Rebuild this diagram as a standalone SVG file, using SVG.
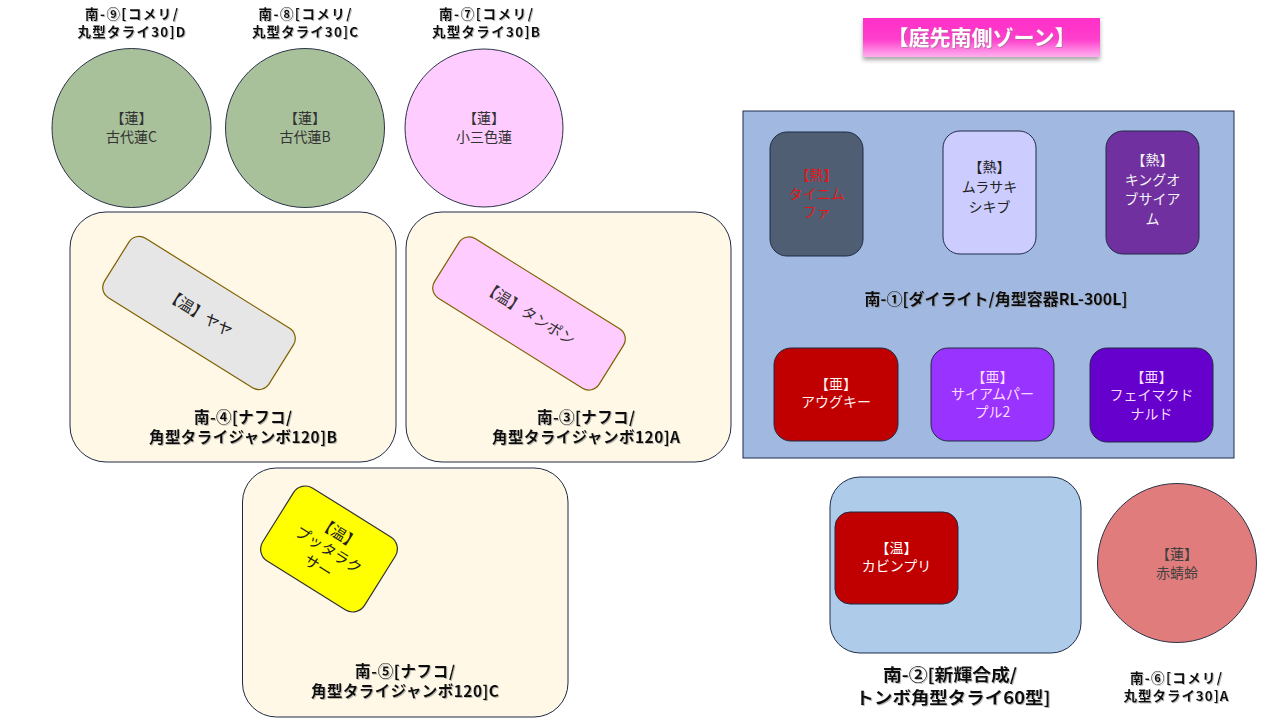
<svg xmlns="http://www.w3.org/2000/svg" width="1280" height="720" viewBox="0 0 1280 720">
  <defs>
    <linearGradient id="titleGrad" x1="0" y1="0" x2="0" y2="1">
      <stop offset="0" stop-color="#FF2FC8"/>
      <stop offset="0.55" stop-color="#FF3FCC"/>
      <stop offset="1" stop-color="#FFB0F0"/>
    </linearGradient>
    <filter id="boxShadow" x="-10%" y="-20%" width="120%" height="160%">
      <feDropShadow dx="0" dy="3" stdDeviation="2" flood-color="#000" flood-opacity="0.35"/>
    </filter>
    <filter id="txtShadow" x="-10%" y="-30%" width="120%" height="160%">
      <feDropShadow dx="1" dy="1" stdDeviation="0.6" flood-color="#7f7f7f" flood-opacity="0.55"/>
    </filter>
    <style>
      .lbl { font-family: "Noto Sans CJK JP", "Noto Sans", sans-serif; font-weight: 700; fill: #111; text-anchor: middle; }
      .t { font-family: "Noto Sans CJK JP", "Noto Sans", sans-serif; font-size: 14px; text-anchor: middle; }
      .tub { fill: #FFF8E6; stroke: #1F2A44; stroke-width: 1; }
      .pot { stroke: #1F2A44; stroke-width: 1; }
      .circ { stroke: #2B3448; stroke-width: 1; }
    </style>
  </defs>

  <!-- Title -->
  <g id="title">
    <rect x="863" y="18" width="237" height="39" fill="url(#titleGrad)" filter="url(#boxShadow)"/>
    <text x="981.5" y="45" class="lbl" style="font-size:21px; fill:#FFFFFF" filter="url(#txtShadow)">【庭先南側ゾーン】</text>
  </g>

  <!-- South-9 -->
  <g id="south9">
    <text class="lbl" style="font-size:13.5px" filter="url(#txtShadow)"><tspan x="131.5" y="19" textLength="93" lengthAdjust="spacing">南-⑨[コメリ/</tspan><tspan x="131.5" y="37" textLength="108" lengthAdjust="spacing">丸型タライ30]D</tspan></text>
    <circle cx="131.5" cy="128" r="79.5" fill="#A9C19B" class="circ"/>
    <text class="t" fill="#333"><tspan x="131.5" y="123">【蓮】</tspan><tspan x="131.5" y="142">古代蓮C</tspan></text>
  </g>

  <!-- South-8 -->
  <g id="south8">
    <text class="lbl" style="font-size:13.5px" filter="url(#txtShadow)"><tspan x="305" y="19" textLength="93" lengthAdjust="spacing">南-⑧[コメリ/</tspan><tspan x="305" y="37" textLength="106" lengthAdjust="spacing">丸型タライ30]C</tspan></text>
    <circle cx="305" cy="128" r="79.5" fill="#A9C19B" class="circ"/>
    <text class="t" fill="#333"><tspan x="305" y="123">【蓮】</tspan><tspan x="305" y="142">古代蓮B</tspan></text>
  </g>

  <!-- South-7 -->
  <g id="south7">
    <text class="lbl" style="font-size:13.5px" filter="url(#txtShadow)"><tspan x="486" y="19" textLength="94" lengthAdjust="spacing">南-⑦[コメリ/</tspan><tspan x="486" y="37" textLength="108" lengthAdjust="spacing">丸型タライ30]B</tspan></text>
    <circle cx="484" cy="128" r="79" fill="#FFCCFF" class="circ"/>
    <text class="t" fill="#333"><tspan x="484" y="123">【蓮】</tspan><tspan x="484" y="142">小三色蓮</tspan></text>
  </g>

  <!-- South-4 -->
  <g id="south4">
    <rect x="70" y="212" width="326" height="250" rx="36" class="tub"/>
    <g id="yaya" transform="translate(199,313) rotate(32)">
      <rect x="-97" y="-35" width="194" height="70" rx="12" fill="#E6E6E6" stroke="#7F6000" stroke-width="1.2"/>
      <text x="0" y="5.5" class="t" style="font-size:15px" fill="#222">【温】ヤヤ</text>
    </g>
    <text class="lbl" style="font-size:15.5px" filter="url(#txtShadow)"><tspan x="243" y="422.5" textLength="98" lengthAdjust="spacing">南-④[ナフコ/</tspan><tspan x="243" y="443" textLength="188" lengthAdjust="spacing">角型タライジャンボ120]B</tspan></text>
  </g>

  <!-- South-3 -->
  <g id="south3">
    <rect x="406" y="212" width="325" height="250" rx="36" class="tub"/>
    <g id="tanpon" transform="translate(529,313.5) rotate(32)">
      <rect x="-97" y="-35" width="194" height="70" rx="12" fill="#FFCCFF" stroke="#7F6000" stroke-width="1.2"/>
      <text x="0" y="5.5" class="t" style="font-size:15px" fill="#333">【温】タンポン</text>
    </g>
    <text class="lbl" style="font-size:15.5px" filter="url(#txtShadow)"><tspan x="586" y="422.5" textLength="98" lengthAdjust="spacing">南-③[ナフコ/</tspan><tspan x="586" y="443" textLength="188" lengthAdjust="spacing">角型タライジャンボ120]A</tspan></text>
  </g>

  <!-- South-5 -->
  <g id="south5">
    <rect x="242.5" y="468" width="325.5" height="249" rx="34" class="tub"/>
    <g id="puttaraksa" transform="translate(329,549) rotate(32)">
      <rect x="-60" y="-43" width="120" height="86" rx="14" fill="#FFFF00" stroke="#333" stroke-width="1.2"/>
      <text class="t" style="font-size:15px" fill="#222"><tspan x="0" y="-13">【温】</tspan><tspan x="0" y="6.5">プッタラク</tspan><tspan x="0" y="26">サー</tspan></text>
    </g>
    <text class="lbl" style="font-size:15.5px" filter="url(#txtShadow)"><tspan x="405" y="676.5" textLength="100" lengthAdjust="spacing">南-⑤[ナフコ/</tspan><tspan x="405" y="697" textLength="188" lengthAdjust="spacing">角型タライジャンボ120]C</tspan></text>
  </g>

  <!-- South-1 -->
  <g id="south1">
    <rect x="743" y="111" width="491" height="347" fill="#A1B9E1" stroke="#1F2D4A" stroke-width="1"/>
    <text x="996" y="305" class="lbl" style="font-size:16px" filter="url(#txtShadow)">南-①[ダイライト/角型容器RL-300L]</text>
    <g id="tainimufa">
      <rect x="770" y="132" width="93" height="124" rx="17" fill="#4F5E73" class="pot"/>
      <text class="t" fill="#E01818"><tspan x="816.5" y="180">【熱】</tspan><tspan x="816.5" y="199">タイニム</tspan><tspan x="816.5" y="217">ファ</tspan></text>
    </g>
    <g id="murasakishikibu">
      <rect x="943" y="131" width="93" height="123" rx="17" fill="#CCCCFF" class="pot"/>
      <text class="t" fill="#222"><tspan x="989.5" y="172">【熱】</tspan><tspan x="989.5" y="192">ムラサキ</tspan><tspan x="989.5" y="212">シキブ</tspan></text>
    </g>
    <g id="kingofsiam">
      <rect x="1106" y="131" width="93" height="123" rx="17" fill="#7030A0" class="pot"/>
      <text class="t" fill="#F4F4F4"><tspan x="1152.5" y="165">【熱】</tspan><tspan x="1152.5" y="184.5">キングオ</tspan><tspan x="1152.5" y="204">ブサイア</tspan><tspan x="1152.5" y="223.5">ム</tspan></text>
    </g>
    <g id="augkey">
      <rect x="774" y="348" width="124" height="93" rx="17" fill="#C00000" class="pot"/>
      <text class="t" fill="#FFF0F0"><tspan x="836" y="388.5">【亜】</tspan><tspan x="836" y="407">アウグキー</tspan></text>
    </g>
    <g id="siampurple2">
      <rect x="931" y="348" width="123" height="93" rx="17" fill="#9933FF" class="pot"/>
      <text class="t" fill="#FFDDFF"><tspan x="992.5" y="381.5">【亜】</tspan><tspan x="992.5" y="399">サイアムパー</tspan><tspan x="992.5" y="417">プル2</tspan></text>
    </g>
    <g id="famemcdonald">
      <rect x="1090" y="348" width="123" height="94" rx="17" fill="#6600CC" class="pot"/>
      <text class="t" fill="#F6DDFF"><tspan x="1151.5" y="381.5">【亜】</tspan><tspan x="1151.5" y="400">フェイマクド</tspan><tspan x="1151.5" y="418.5">ナルド</tspan></text>
    </g>
  </g>

  <!-- South-2 -->
  <g id="south2">
    <rect x="830" y="477" width="251" height="176" rx="30" fill="#AECBE9" stroke="#1F2D4A" stroke-width="1"/>
    <g id="kabinpuri">
      <rect x="835" y="512" width="123" height="92" rx="15" fill="#C00000" class="pot"/>
      <text class="t" fill="#FFFFFF"><tspan x="896.5" y="553">【温】</tspan><tspan x="896.5" y="571">カビンプリ</tspan></text>
    </g>
    <text class="lbl" style="font-size:17px" filter="url(#txtShadow)"><tspan x="950" y="681" textLength="134" lengthAdjust="spacingAndGlyphs">南-②[新輝合成/</tspan><tspan x="953" y="703.5" textLength="195" lengthAdjust="spacingAndGlyphs">トンボ角型タライ60型]</tspan></text>
  </g>

  <!-- South-6 -->
  <g id="south6">
    <circle cx="1177" cy="563" r="79.5" fill="#E07C7C" class="circ"/>
    <text class="t" fill="#404040"><tspan x="1177" y="559">【蓮】</tspan><tspan x="1177" y="578">赤蜻蛉</tspan></text>
    <text class="lbl" style="font-size:13.5px" filter="url(#txtShadow)"><tspan x="1176" y="683" textLength="92" lengthAdjust="spacing">南-⑥[コメリ/</tspan><tspan x="1176" y="701" textLength="105" lengthAdjust="spacing">丸型タライ30]A</tspan></text>
  </g>

  <g id="connectors"/>
</svg>
